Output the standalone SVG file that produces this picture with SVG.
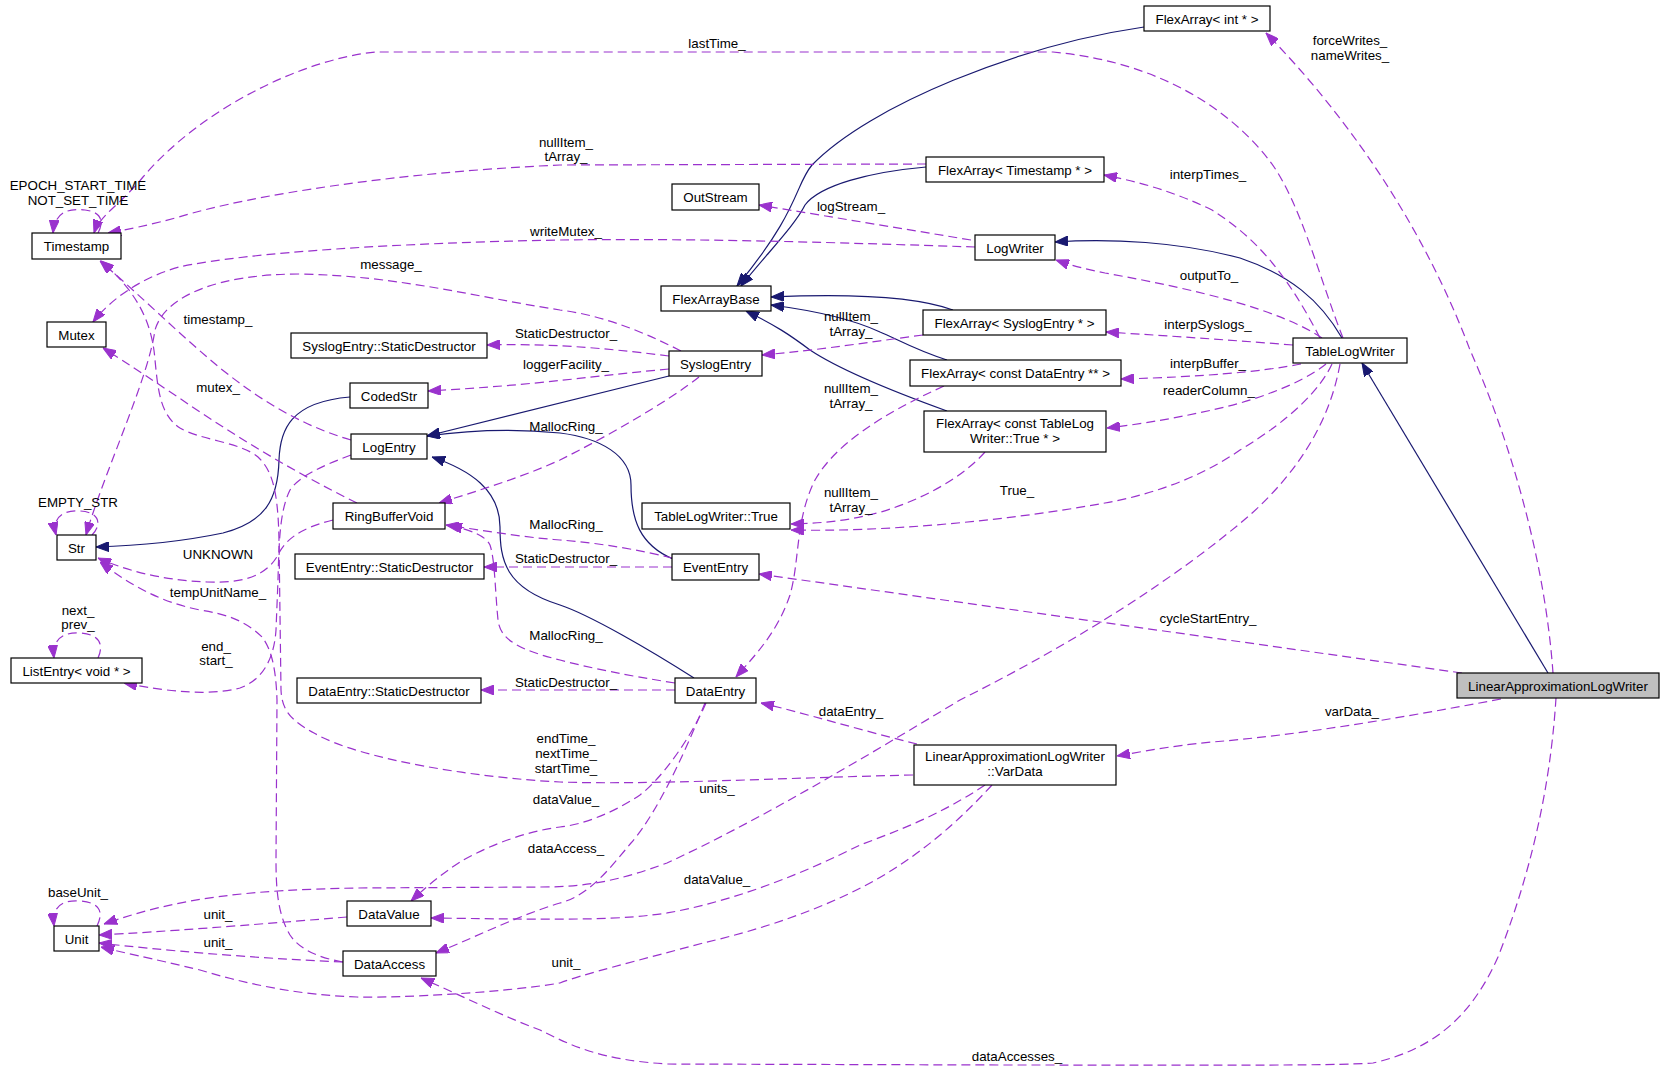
<svg xmlns="http://www.w3.org/2000/svg" width="1665" height="1071" viewBox="0 0 1665 1071">
<style>
.node rect{fill:#ffffff;stroke:#000000;stroke-width:1.2}
.node.main rect{fill:#bfbfbf}
text{font-family:"Liberation Sans",Arial,Helvetica,sans-serif;font-size:13.33px;fill:#000000}
.node text,.lbl{text-anchor:middle}
.inh{fill:none;stroke:#191970;stroke-width:1.2;marker-end:url(#ab)}
.use{fill:none;stroke:#9a32cd;stroke-width:1.2;stroke-dasharray:9,5;marker-end:url(#ap)}
</style>
<defs>
<marker id="ab" markerWidth="13" markerHeight="10" refX="13" refY="5" orient="auto" markerUnits="userSpaceOnUse"><path d="M0,0 L13,5 L0,10 z" fill="#191970" stroke="#191970" stroke-width="1"/></marker>
<marker id="ap" markerWidth="13" markerHeight="10" refX="13" refY="5" orient="auto" markerUnits="userSpaceOnUse"><path d="M0,0 L13,5 L0,10 z" fill="#9a32cd" stroke="#9a32cd" stroke-width="1"/></marker>
</defs>
<g id="connectors">
<path class="inh" d="M1144,27 C1020,45 870,105 812,165 C795,185 800,210 737,286"/>
<path class="inh" d="M926,167 C870,172 820,185 805,205 C795,225 770,250 741,286"/>
<path class="inh" d="M1342,338 C1320,300 1290,275 1240,258 C1180,242 1110,238 1055,242"/>
<path class="inh" d="M953,310 C920,298 860,293 771,297"/>
<path class="inh" d="M947,360 C915,350 895,338 880,332 C850,318 810,310 771,305"/>
<path class="inh" d="M947,411 C900,394 840,370 810,350 C790,335 775,325 746,311"/>
<path class="inh" d="M669,376 L427,436"/>
<path class="inh" d="M673,559 C640,545 631,520 631,485 C631,455 600,438 560,433 C510,428 470,430 427,436"/>
<path class="inh" d="M694,678 C650,650 590,615 560,605 C505,588 500,560 500,527 C500,490 470,470 432,457"/>
<path class="inh" d="M350,397 C290,402 280,430 279,460 C278,500 265,522 223,533 C180,542 130,546 96,547"/>
<path class="inh" d="M1548,673 L1362,363"/>
<path class="use" d="M1343,338 C1320,280 1300,200 1269,160 C1230,110 1160,62 1053,52 L375,52 C300,60 200,110 143,177 C120,205 100,215 94,233"/>
<path class="use" d="M98,233 C104,222 102,212 85,210 C68,208 55,212 53,233"/>
<path class="use" d="M926,164 L560,165 C400,172 250,195 179,217 C150,225 125,230 108,233"/>
<path class="use" d="M975,247 C850,243 700,238 560,240 C400,243 250,252 179,267 C140,278 110,300 93,322"/>
<path class="use" d="M971,240 L759,205"/>
<path class="use" d="M681,351 C640,330 600,315 560,310 C470,296 400,276 300,274 C220,274 165,295 155,330 C148,380 105,470 86,535"/>
<path class="use" d="M92,535 C102,525 100,512 80,511 C62,510 52,518 56,535"/>
<path class="use" d="M669,356 C620,350 560,343 487,345"/>
<path class="use" d="M669,369 C600,375 540,385 428,391"/>
<path class="use" d="M699,377 C670,400 610,435 560,460 C520,478 480,490 439,503"/>
<path class="use" d="M923,335 C870,342 820,350 762,355"/>
<path class="use" d="M1553,673 C1545,560 1510,440 1470,350 C1440,270 1380,150 1266,33"/>
<path class="use" d="M1320,338 C1290,280 1260,240 1212,210 C1175,192 1140,182 1104,175"/>
<path class="use" d="M1322,338 C1280,310 1200,290 1105,273 C1085,269 1070,265 1056,260"/>
<path class="use" d="M1293,345 C1230,340 1170,336 1106,332"/>
<path class="use" d="M1301,364 C1260,372 1200,377 1121,379"/>
<path class="use" d="M1326,364 C1300,385 1250,402 1212,410 C1180,417 1150,423 1107,428"/>
<path class="use" d="M1332,364 C1320,390 1290,420 1240,450 C1200,478 1150,495 1105,503 C1000,522 880,532 791,530"/>
<path class="use" d="M1340,364 C1330,420 1300,470 1250,515 C1180,575 1080,640 960,700 C860,760 760,820 667,863 C620,880 590,887 540,887 L357,888 C250,890 180,897 104,924"/>
<path class="use" d="M944,386 C880,415 835,445 815,480 C795,520 800,560 790,595 C778,630 760,650 736,677"/>
<path class="use" d="M985,452 C960,480 920,500 881,512 C850,520 830,523 791,524"/>
<path class="use" d="M351,440 C300,425 260,400 220,368 C180,335 140,295 100,261"/>
<path class="use" d="M913,775 C780,778 650,785 560,782 C480,778 360,760 314,733 C290,720 282,710 281,690 L279,540 C278,490 272,470 258,457 C240,442 200,440 180,428 C160,415 158,390 155,360 C152,320 135,290 101,261"/>
<path class="use" d="M357,503 C300,475 250,445 200,412 C160,385 130,365 103,348"/>
<path class="use" d="M333,520 C300,528 285,540 278,555 C265,578 240,583 207,582 C160,580 125,570 98,558"/>
<path class="use" d="M343,962 C320,958 300,950 290,935 C278,915 276,890 276,860 L277,700 C276,670 272,650 262,637 C245,620 225,614 200,610 C160,602 130,585 100,562"/>
<path class="use" d="M351,455 C325,465 300,475 290,490 C280,510 279,540 278,580 L276,630 C274,660 262,680 240,688 C210,696 170,692 124,683"/>
<path class="use" d="M98,658 C104,645 100,634 80,633 C62,632 52,640 54,658"/>
<path class="use" d="M672,558 C640,550 600,543 560,540 C520,537 480,530 446,525"/>
<path class="use" d="M672,567 L484,567"/>
<path class="use" d="M675,683 C630,676 590,668 560,660 C520,650 500,640 498,620 C495,590 495,560 490,545 C485,535 470,530 449,525"/>
<path class="use" d="M675,690 L481,690"/>
<path class="use" d="M706,703 C690,740 660,780 640,795 C610,815 580,825 560,827 C520,832 480,850 460,862 C440,875 425,888 411,901"/>
<path class="use" d="M705,703 C690,740 660,810 631,843 C610,868 590,895 560,903 C520,915 480,935 436,953"/>
<path class="use" d="M917,744 C860,730 800,712 761,703"/>
<path class="use" d="M985,785 C940,815 900,830 860,845 C810,870 740,900 667,913 C620,920 580,920 431,918"/>
<path class="use" d="M992,785 C960,820 930,845 900,865 C840,905 760,930 703,943 C640,960 580,975 560,983 C500,993 400,998 357,997 C300,995 250,985 200,970 C150,958 120,952 101,947"/>
<path class="use" d="M347,917 C250,925 160,932 99,935"/>
<path class="use" d="M343,962 C250,958 160,950 99,943"/>
<path class="use" d="M97,926 C104,912 100,902 79,901 C60,900 52,908 54,926"/>
<path class="use" d="M1556,698 C1552,760 1540,850 1498,957 C1470,1020 1430,1050 1373,1063 C1330,1066 1200,1065 1000,1065 L667,1064 C600,1060 570,1045 540,1030 C500,1015 460,995 421,978"/>
<path class="use" d="M1501,699 C1400,718 1300,735 1212,742 C1170,746 1140,752 1117,756"/>
<path class="use" d="M1462,673 L759,574"/>
<text class="lbl" x="78" y="190">EPOCH_START_TIME</text>
<text class="lbl" x="78" y="205">NOT_SET_TIME</text>
<text class="lbl" x="717" y="48">lastTime_</text>
<text class="lbl" x="566" y="147">nullItem_</text>
<text class="lbl" x="566" y="161">tArray_</text>
<text class="lbl" x="566" y="236">writeMutex_</text>
<text class="lbl" x="391" y="269">message_</text>
<text class="lbl" x="218" y="324">timestamp_</text>
<text class="lbl" x="851" y="211">logStream_</text>
<text class="lbl" x="851" y="321">nullItem_</text>
<text class="lbl" x="851" y="336">tArray_</text>
<text class="lbl" x="566" y="338">StaticDestructor_</text>
<text class="lbl" x="566" y="369">loggerFacility_</text>
<text class="lbl" x="218" y="392">mutex_</text>
<text class="lbl" x="566" y="431">MallocRing_</text>
<text class="lbl" x="851" y="393">nullItem_</text>
<text class="lbl" x="851" y="408">tArray_</text>
<text class="lbl" x="78" y="507">EMPTY_STR</text>
<text class="lbl" x="566" y="529">MallocRing_</text>
<text class="lbl" x="218" y="559">UNKNOWN</text>
<text class="lbl" x="566" y="563">StaticDestructor_</text>
<text class="lbl" x="851" y="497">nullItem_</text>
<text class="lbl" x="851" y="512">tArray_</text>
<text class="lbl" x="1017" y="495">True_</text>
<text class="lbl" x="218" y="597">tempUnitName_</text>
<text class="lbl" x="78" y="615">next_</text>
<text class="lbl" x="78" y="629">prev_</text>
<text class="lbl" x="216" y="651">end_</text>
<text class="lbl" x="216" y="665">start_</text>
<text class="lbl" x="566" y="640">MallocRing_</text>
<text class="lbl" x="566" y="687">StaticDestructor_</text>
<text class="lbl" x="1208" y="623">cycleStartEntry_</text>
<text class="lbl" x="1208" y="368">interpBuffer_</text>
<text class="lbl" x="1209" y="395">readerColumn_</text>
<text class="lbl" x="1350" y="45">forceWrites_</text>
<text class="lbl" x="1350" y="60">nameWrites_</text>
<text class="lbl" x="1208" y="179">interpTimes_</text>
<text class="lbl" x="1209" y="280">outputTo_</text>
<text class="lbl" x="1208" y="329">interpSyslogs_</text>
<text class="lbl" x="851" y="716">dataEntry_</text>
<text class="lbl" x="566" y="743">endTime_</text>
<text class="lbl" x="566" y="758">nextTime_</text>
<text class="lbl" x="566" y="773">startTime_</text>
<text class="lbl" x="717" y="793">units_</text>
<text class="lbl" x="566" y="804">dataValue_</text>
<text class="lbl" x="566" y="853">dataAccess_</text>
<text class="lbl" x="717" y="884">dataValue_</text>
<text class="lbl" x="78" y="897">baseUnit_</text>
<text class="lbl" x="218" y="919">unit_</text>
<text class="lbl" x="218" y="947">unit_</text>
<text class="lbl" x="566" y="967">unit_</text>
<text class="lbl" x="1352" y="716">varData_</text>
<text class="lbl" x="1017" y="1061">dataAccesses_</text>
</g>
<g id="n_FlexArrayInt" class="node"><rect x="1144" y="6" width="126" height="25"/><text x="1207" y="23.5">FlexArray&lt; int * &gt;</text></g>
<g id="n_Timestamp" class="node"><rect x="32" y="233" width="89" height="26"/><text x="76.5" y="250.5">Timestamp</text></g>
<g id="n_FlexArrayTimestamp" class="node"><rect x="926" y="157" width="178" height="25"/><text x="1015" y="174.5">FlexArray&lt; Timestamp * &gt;</text></g>
<g id="n_OutStream" class="node"><rect x="672" y="184" width="87" height="26"/><text x="715.5" y="201.5">OutStream</text></g>
<g id="n_LogWriter" class="node"><rect x="975" y="235" width="80" height="25"/><text x="1015" y="252.5">LogWriter</text></g>
<g id="n_FlexArrayBase" class="node"><rect x="661" y="286" width="110" height="25"/><text x="716" y="303.5">FlexArrayBase</text></g>
<g id="n_Mutex" class="node"><rect x="47" y="322" width="59" height="25"/><text x="76.5" y="339.5">Mutex</text></g>
<g id="n_SyslogEntryStaticDestructor" class="node"><rect x="291" y="333" width="196" height="25"/><text x="389" y="350.5">SyslogEntry::StaticDestructor</text></g>
<g id="n_SyslogEntry" class="node"><rect x="669" y="351" width="93" height="25"/><text x="715.5" y="368.5">SyslogEntry</text></g>
<g id="n_FlexArraySyslogEntry" class="node"><rect x="923" y="310" width="183" height="25"/><text x="1014.5" y="327.5">FlexArray&lt; SyslogEntry * &gt;</text></g>
<g id="n_TableLogWriter" class="node"><rect x="1293" y="338" width="114" height="25"/><text x="1350" y="355.5">TableLogWriter</text></g>
<g id="n_FlexArrayDataEntry" class="node"><rect x="910" y="360" width="211" height="26"/><text x="1015.5" y="377.5">FlexArray&lt; const DataEntry ** &gt;</text></g>
<g id="n_CodedStr" class="node"><rect x="350" y="383" width="78" height="25"/><text x="389" y="400.5">CodedStr</text></g>
<g id="n_LogEntry" class="node"><rect x="351" y="434" width="76" height="25"/><text x="389" y="451.5">LogEntry</text></g>
<g id="n_FlexArrayTrue" class="node"><rect x="924" y="411" width="182" height="41"/><text x="1015" y="428">FlexArray&lt; const TableLog</text><text x="1015" y="443">Writer::True * &gt;</text></g>
<g id="n_RingBufferVoid" class="node"><rect x="333" y="503" width="112" height="26"/><text x="389" y="520.5">RingBufferVoid</text></g>
<g id="n_TableLogWriterTrue" class="node"><rect x="642" y="503" width="148" height="26"/><text x="716" y="520.5">TableLogWriter::True</text></g>
<g id="n_Str" class="node"><rect x="57" y="535" width="39" height="25"/><text x="76.5" y="552.5">Str</text></g>
<g id="n_EventEntryStaticDestructor" class="node"><rect x="295" y="554" width="189" height="25"/><text x="389.5" y="571.5">EventEntry::StaticDestructor</text></g>
<g id="n_EventEntry" class="node"><rect x="672" y="554" width="87" height="26"/><text x="715.5" y="571.5">EventEntry</text></g>
<g id="n_ListEntry" class="node"><rect x="11" y="658" width="131" height="25"/><text x="76.5" y="675.5">ListEntry&lt; void * &gt;</text></g>
<g id="n_DataEntryStaticDestructor" class="node"><rect x="297" y="678" width="184" height="25"/><text x="389" y="695.5">DataEntry::StaticDestructor</text></g>
<g id="n_DataEntry" class="node"><rect x="675" y="678" width="81" height="25"/><text x="715.5" y="695.5">DataEntry</text></g>
<g id="n_LinearApproximationLogWriter" class="node main"><rect x="1457" y="673" width="202" height="25"/><text x="1558" y="690.5">LinearApproximationLogWriter</text></g>
<g id="n_VarData" class="node"><rect x="914" y="745" width="202" height="40"/><text x="1015" y="761">LinearApproximationLogWriter</text><text x="1015" y="776">::VarData</text></g>
<g id="n_DataValue" class="node"><rect x="347" y="901" width="84" height="25"/><text x="389" y="918.5">DataValue</text></g>
<g id="n_Unit" class="node"><rect x="54" y="926" width="45" height="25"/><text x="76.5" y="943.5">Unit</text></g>
<g id="n_DataAccess" class="node"><rect x="343" y="951" width="93" height="25"/><text x="389.5" y="968.5">DataAccess</text></g>
</svg>
